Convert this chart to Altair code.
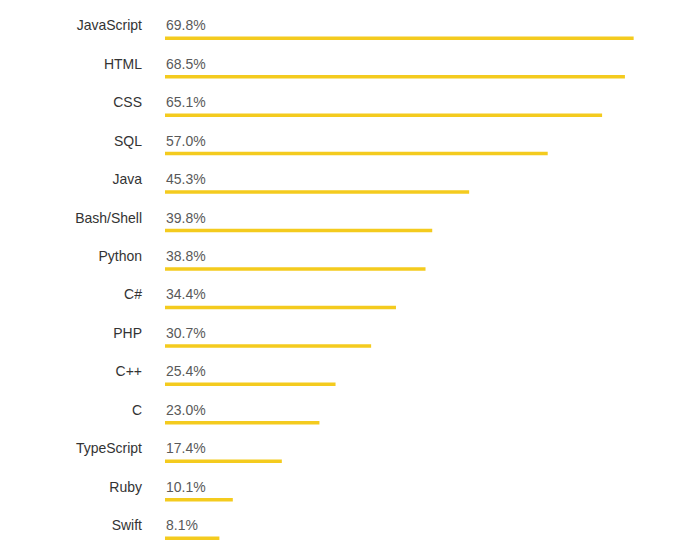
import altair as alt
import pandas as pd

languages = ["JavaScript", "HTML", "CSS", "SQL", "Java", "Bash/Shell", "Python",
             "C#", "PHP", "C++", "C", "TypeScript", "Ruby", "Swift"]
shares = [69.8, 68.5, 65.1, 57.0, 45.3, 39.8, 38.8, 34.4, 30.7, 25.4, 23.0, 17.4, 10.1, 8.1]

df = pd.DataFrame({"language": languages, "share": shares})
df["label"] = [f"{v:.1f}%" for v in shares]

row_step = 38.46
y_enc = alt.Y("language:N", sort=languages, axis=None,
              scale=alt.Scale(paddingInner=0, paddingOuter=0))
x_scale = alt.Scale(domain=[0, 70], nice=False, zero=True)

base = alt.Chart(df).encode(y=y_enc)

bars = base.mark_bar(height=3.5, color="#F4CB1E", yOffset=7).encode(
    x=alt.X("share:Q", scale=x_scale, axis=None),
    x2=alt.datum(0),
)

names = base.mark_text(align="right", baseline="middle", dy=-5, fontSize=14,
                       font="Liberation Sans", color="#333333").encode(
    x=alt.value(-23), text="language:N")

values = base.mark_text(align="left", baseline="middle", dy=-5, dx=1, fontSize=14,
                        font="Liberation Sans", color="#595959").encode(
    x=alt.value(0), text="label:N")

chart = alt.layer(bars, names, values).properties(
    width=470,
    height=row_step * len(languages),
    autosize=alt.AutoSizeParams(type="none"),
    padding={"left": 165, "top": 12, "right": 54, "bottom": 0},
    view=alt.ViewBackground(stroke="transparent"),
).configure_view(stroke="transparent").configure(background="white")

chart.save("out.html", embed_options={"renderer": "svg", "actions": False})
